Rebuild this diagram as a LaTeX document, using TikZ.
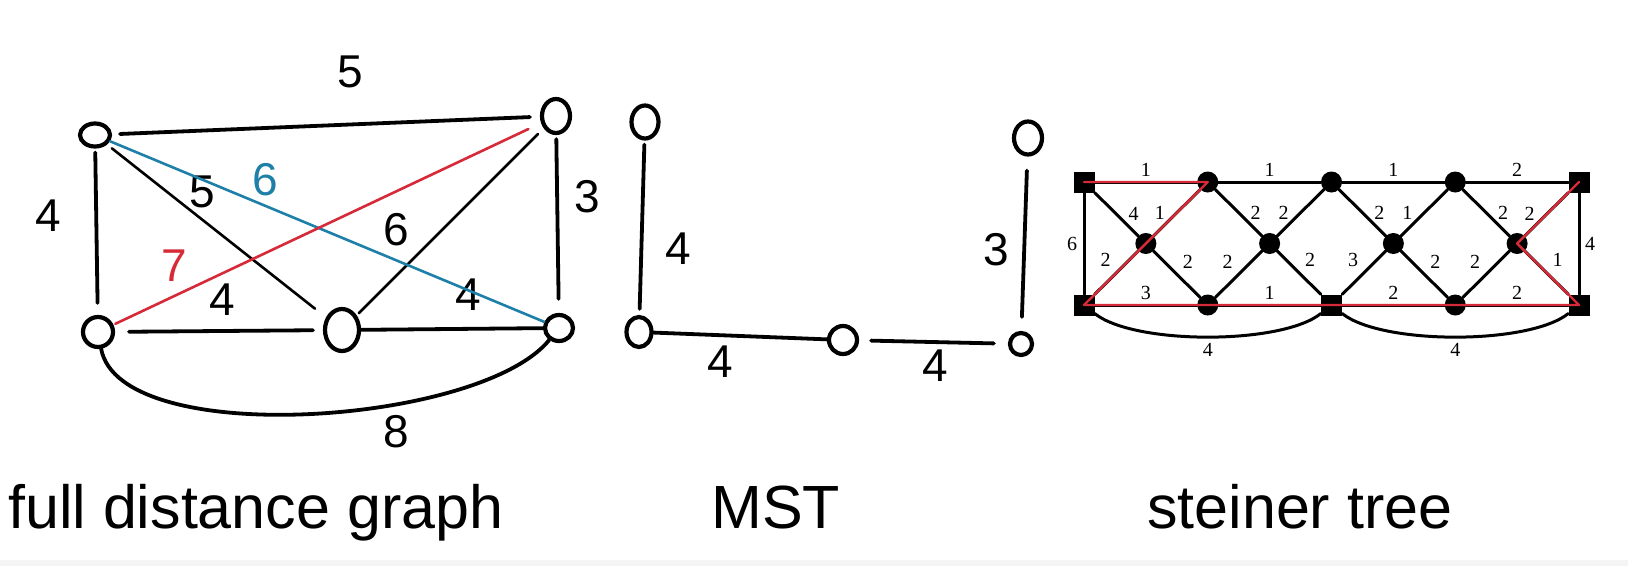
\documentclass[tikz,border=0pt]{standalone}
\usepackage{fontspec}
\setmainfont{Liberation Serif}
\newfontfamily\handfont{Liberation Sans}
\usetikzlibrary{shapes.geometric}
\definecolor{hblue}{RGB}{30,128,168}
\definecolor{hred}{RGB}{214,42,56}
\begin{document}
\begin{tikzpicture}[x=1pt,y=-1pt,line join=round,line cap=round,
	hnode/.style={draw,ellipse,line width=4.2pt,inner sep=0pt},
	hline/.style={line width=3.8pt},
	hthin/.style={line width=2.6pt},
	hlab/.style={font=\fontsize{46}{46}\selectfont\handfont},
	htitle/.style={font=\fontsize{61}{61}\selectfont\handfont,inner sep=0pt,anchor=base west},
	stl/.style={line width=3pt},
	sqnode/.style={fill,minimum size=21pt,inner sep=0pt},
	dotnode/.style={fill,circle,minimum size=21pt,inner sep=0pt},
	wt/.style={font=\fontsize{20}{20}\selectfont},
	rowlab/.style={wt,yshift=12pt},
	lt/.style={wt,xshift=-17pt},
	rt/.style={wt,xshift=17pt},
	ul/.style={wt,xshift=-11pt,yshift=12.5pt},
	ur/.style={wt,xshift=11pt,yshift=12.5pt},
	redpath/.style={hred,line width=2.4pt}]
	\useasboundingbox (0,0) rectangle (1628,566);
	\fill[white] (0,0) rectangle (1628,566);
	\fill[gray!8] (0,560) rectangle (1628,566);

	% full distance graph
	\node[hnode,minimum width=30pt,minimum height=23pt] (A) at (95,135) {};
	\node[hnode,minimum width=28pt,minimum height=34pt] (B) at (556,116) {};
	\node[hnode,minimum width=30pt,minimum height=30pt] (C) at (98,332) {};
	\node[hnode,minimum width=34pt,minimum height=42pt] (D) at (342,330) {};
	\node[hnode,minimum width=28pt,minimum height=26pt] (E) at (559,328) {};
	\draw[hline,shorten <=8pt,shorten >=10pt] (A) -- (B) node[hlab] at (350,72) {5};
	\draw[hline,shorten <=4pt,shorten >=12pt] (A) -- (C) node[hlab] at (48,216) {4};
	\draw[hline,shorten <=4pt,shorten >=14pt] (B) -- (E) node[hlab] at (587,197) {3};
	\draw[hthin,shorten <=6pt,shorten >=14pt] (A) -- (D) node[hlab] at (202,192) {5};
	\draw[hthin,shorten <=8pt,shorten >=3pt] (B) -- (D) node[hlab] at (396,230) {6};
	\draw[hline,shorten <=14pt,shorten >=10pt] (C) -- (D) node[hlab] at (222,300) {4};
	\draw[hline] (D) -- (E) node[hlab] at (468,295) {4};
	\draw[hthin,hblue] (A) -- (E) node[hlab,text=hblue] at (265,180) {6};
	\draw[hthin,hred,shorten <=14pt,shorten >=2pt] (B) -- (C) node[hlab,text=hred] at (174,266) {7};
	\draw[hline] (C) .. controls +(22,118) and +(-79,97) .. (E) node[hlab] at (396,432) {8};

	% MST
	\node[hnode,minimum width=27pt,minimum height=33pt] (u1) at (645,122) {};
	\node[hnode,minimum width=25pt,minimum height=30pt] (u2) at (639,332) {};
	\node[hnode,minimum width=28pt,minimum height=28pt] (u3) at (843,340) {};
	\node[hnode,minimum width=22pt,minimum height=22pt] (u4) at (1021,344) {};
	\node[hnode,minimum width=28pt,minimum height=33pt] (u5) at (1028,138) {};
	\draw[hline,shorten <=4pt,shorten >=6pt] (u1) -- (u2) node[hlab] at (678,249) {4};
	\draw[hline] (u2) -- (u3) node[hlab] at (720,362) {4};
	\draw[hline,shorten <=12pt,shorten >=14pt] (u3) -- (u4) node[hlab] at (935,366) {4};
	\draw[hline,shorten <=14pt,shorten >=14pt] (u5) -- (u4) node[hlab] at (996,250) {3};

	% steiner tree
	\foreach \k/\s in {0/sqnode,2/dotnode,4/dotnode,6/dotnode,8/sqnode}
		\node[\s] (t\k) at ({1084+61.875*\k},182) {};
	\foreach \k/\s in {0/sqnode,2/dotnode,4/sqnode,6/dotnode,8/sqnode}
		\node[\s] (b\k) at ({1084+61.875*\k},305) {};
	\foreach \k in {1,3,5,7}
		\node[dotnode] (m\k) at ({1084+61.875*\k},243.5) {};
	\draw[stl] (t0) -- node[rowlab]{1} (t2) -- node[rowlab]{1} (t4) -- node[rowlab]{1} (t6) -- node[rowlab]{2} (t8);
	\draw[stl] (b0) -- node[rowlab]{3} (b2) -- node[rowlab]{1} (b4) -- node[rowlab]{2} (b6) -- node[rowlab]{2} (b8);
	\draw[stl] (t0) -- node[wt,xshift=-12pt]{6} (b0);
	\draw[stl] (t8) -- node[wt,xshift=11pt]{4} (b8);
	\draw[stl] (t0) -- node[rt]{4} (m1) -- node[lt]{1} (t2) -- node[rt]{2} (m3) -- node[lt]{2} (t4)
		-- node[rt]{2} (m5) -- node[lt]{1} (t6) -- node[rt]{2} (m7) -- node[lt]{2} (t8);
	\draw[stl] (b0) -- node[ul]{2} (m1) -- node[ur]{2} (b2) -- node[ul]{2} (m3) -- node[ur]{2} (b4)
		-- node[ul]{3} (m5) -- node[ur]{2} (b6) -- node[ul]{2} (m7) -- node[ur]{1} (b8);
	\draw[stl] (b0) .. controls +(50,40) and +(-50,40) .. node[wt,yshift=-13pt]{4} (b4);
	\draw[stl] (b4) .. controls +(50,40) and +(-50,40) .. node[wt,yshift=-13pt]{4} (b8);
	\draw[redpath] (t0.center) -- (t2.center) -- (b0.center) -- (b8.center) -- (m7.center) -- (t8.center);

	% titles
	\node[htitle] (fdg) at (8,528) {full distance graph};
	\node[htitle] (mst) at (711,528) {MST};
	\node[htitle] (stt) at (1147,528) {steiner tree};
\end{tikzpicture}
\end{document}
